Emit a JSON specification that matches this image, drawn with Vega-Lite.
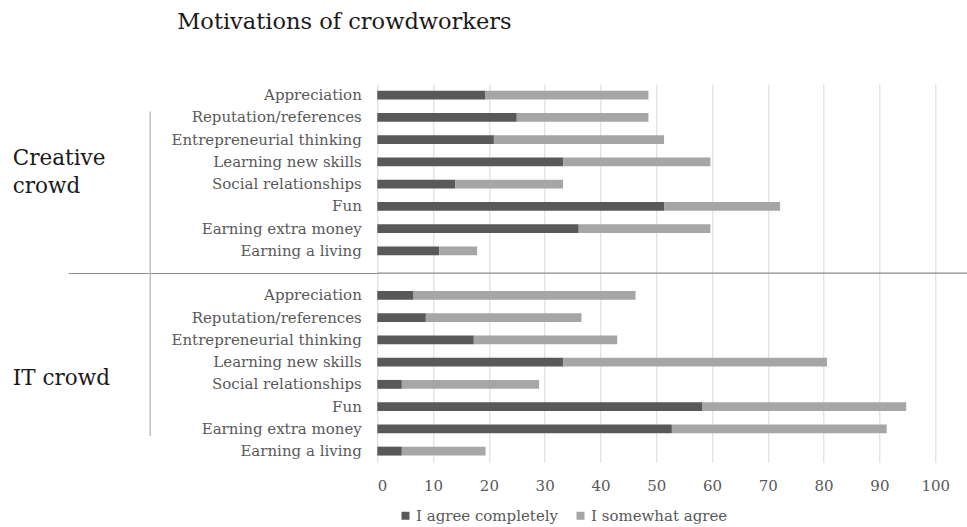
{
  "$schema": "https://vega.github.io/schema/vega-lite/v6.json",
  "width": 589.7,
  "height": 378.25,
  "autosize": "none",
  "padding": {"left": 377.3, "top": 84, "right": 0, "bottom": 64.75},
  "background": "white",
  "config": {
    "font": "DejaVu Serif",
    "view": {"stroke": null},
    "axis": {"labelFont": "DejaVu Serif"},
    "legend": {"labelFont": "DejaVu Serif"}
  },
  "title": {
    "text": "Motivations of crowdworkers",
    "anchor": "start",
    "frame": "group",
    "dx": -200,
    "fontSize": 22.5,
    "fontWeight": "normal",
    "font": "DejaVu Serif",
    "color": "#1a1a1a",
    "offset": 51
  },
  "data": {
    "values": [
      {"k": "Creative crowd|Appreciation", "r": "I agree completely", "o": 1, "v": 19.4},
      {"k": "Creative crowd|Appreciation", "r": "I somewhat agree", "o": 2, "v": 29.2},
      {"k": "Creative crowd|Reputation/references", "r": "I agree completely", "o": 1, "v": 25.0},
      {"k": "Creative crowd|Reputation/references", "r": "I somewhat agree", "o": 2, "v": 23.6},
      {"k": "Creative crowd|Entrepreneurial thinking", "r": "I agree completely", "o": 1, "v": 20.9},
      {"k": "Creative crowd|Entrepreneurial thinking", "r": "I somewhat agree", "o": 2, "v": 30.5},
      {"k": "Creative crowd|Learning new skills", "r": "I agree completely", "o": 1, "v": 33.3},
      {"k": "Creative crowd|Learning new skills", "r": "I somewhat agree", "o": 2, "v": 26.4},
      {"k": "Creative crowd|Social relationships", "r": "I agree completely", "o": 1, "v": 14.0},
      {"k": "Creative crowd|Social relationships", "r": "I somewhat agree", "o": 2, "v": 19.3},
      {"k": "Creative crowd|Fun", "r": "I agree completely", "o": 1, "v": 51.4},
      {"k": "Creative crowd|Fun", "r": "I somewhat agree", "o": 2, "v": 20.8},
      {"k": "Creative crowd|Earning extra money", "r": "I agree completely", "o": 1, "v": 36.1},
      {"k": "Creative crowd|Earning extra money", "r": "I somewhat agree", "o": 2, "v": 23.6},
      {"k": "Creative crowd|Earning a living", "r": "I agree completely", "o": 1, "v": 11.1},
      {"k": "Creative crowd|Earning a living", "r": "I somewhat agree", "o": 2, "v": 6.8},
      {"k": "IT crowd|Appreciation", "r": "I agree completely", "o": 1, "v": 6.5},
      {"k": "IT crowd|Appreciation", "r": "I somewhat agree", "o": 2, "v": 39.8},
      {"k": "IT crowd|Reputation/references", "r": "I agree completely", "o": 1, "v": 8.7},
      {"k": "IT crowd|Reputation/references", "r": "I somewhat agree", "o": 2, "v": 27.9},
      {"k": "IT crowd|Entrepreneurial thinking", "r": "I agree completely", "o": 1, "v": 17.3},
      {"k": "IT crowd|Entrepreneurial thinking", "r": "I somewhat agree", "o": 2, "v": 25.7},
      {"k": "IT crowd|Learning new skills", "r": "I agree completely", "o": 1, "v": 33.3},
      {"k": "IT crowd|Learning new skills", "r": "I somewhat agree", "o": 2, "v": 47.3},
      {"k": "IT crowd|Social relationships", "r": "I agree completely", "o": 1, "v": 4.4},
      {"k": "IT crowd|Social relationships", "r": "I somewhat agree", "o": 2, "v": 24.6},
      {"k": "IT crowd|Fun", "r": "I agree completely", "o": 1, "v": 58.2},
      {"k": "IT crowd|Fun", "r": "I somewhat agree", "o": 2, "v": 36.6},
      {"k": "IT crowd|Earning extra money", "r": "I agree completely", "o": 1, "v": 52.8},
      {"k": "IT crowd|Earning extra money", "r": "I somewhat agree", "o": 2, "v": 38.5},
      {"k": "IT crowd|Earning a living", "r": "I agree completely", "o": 1, "v": 4.4},
      {"k": "IT crowd|Earning a living", "r": "I somewhat agree", "o": 2, "v": 15.0}
    ]
  },
  "layer": [
    {
      "mark": {"type": "bar"},
      "encoding": {
        "y": {
          "field": "k",
          "type": "nominal",
          "sort": null,
          "scale": {
            "domain": [
              "Creative crowd|Appreciation",
              "Creative crowd|Reputation/references",
              "Creative crowd|Entrepreneurial thinking",
              "Creative crowd|Learning new skills",
              "Creative crowd|Social relationships",
              "Creative crowd|Fun",
              "Creative crowd|Earning extra money",
              "Creative crowd|Earning a living",
              "gap",
              "IT crowd|Appreciation",
              "IT crowd|Reputation/references",
              "IT crowd|Entrepreneurial thinking",
              "IT crowd|Learning new skills",
              "IT crowd|Social relationships",
              "IT crowd|Fun",
              "IT crowd|Earning extra money",
              "IT crowd|Earning a living"
            ],
            "paddingInner": 0.6,
            "paddingOuter": 0.3
          },
          "axis": {
            "title": null,
            "orient": "left",
            "ticks": false,
            "domain": false,
            "labelPadding": 16,
            "labelFontSize": 15,
            "labelLimit": 300,
            "labelColor": "#595959",
            "labelExpr": "datum.value == 'gap' ? '' : split(datum.value, '|')[1]"
          }
        },
        "x": {
          "field": "v",
          "type": "quantitative",
          "stack": "zero",
          "scale": {"domain": [0, 105.7], "nice": false},
          "axis": {
            "title": null,
            "values": [0, 10, 20, 30, 40, 50, 60, 70, 80, 90, 100],
            "grid": true,
            "gridColor": "#d9d9d9",
            "gridWidth": 1,
            "domain": false,
            "ticks": false,
            "labelFontSize": 15,
            "labelColor": "#595959",
            "labelPadding": 16
          }
        },
        "color": {
          "field": "r",
          "type": "nominal",
          "scale": {
            "domain": ["I agree completely", "I somewhat agree"],
            "range": ["#595959", "#a6a6a6"]
          },
          "legend": {
            "title": null,
            "orient": "none",
            "direction": "horizontal",
            "legendX": 20.7,
            "legendY": 424,
            "symbolType": "square",
            "symbolSize": 64,
            "symbolStrokeWidth": 0,
            "labelFontSize": 15,
            "labelColor": "#595959",
            "labelOffset": 3,
            "columnPadding": 14
          }
        },
        "order": {"field": "o", "type": "quantitative"}
      }
    },
    {
      "data": {"values": [{"a": "Creative crowd|Reputation/references", "b": "IT crowd|Earning extra money"}]},
      "mark": {"type": "rule", "color": "#bfbfbf", "strokeWidth": 1.5, "yOffset": -6, "y2Offset": 7},
      "encoding": {
        "x": {"datum": -40.7, "type": "quantitative"},
        "y": {
          "field": "a",
          "type": "nominal",
          "axis": {
            "title": null,
            "orient": "left",
            "values": ["Creative crowd|Social relationships", "IT crowd|Social relationships"],
            "ticks": false,
            "domain": false,
            "labelAlign": "left",
            "labelBaseline": "middle",
            "labelPadding": 365,
            "labelLimit": 300,
            "labelOffset": {"condition": {"test": "datum.value == 'IT crowd|Social relationships'", "value": -5}, "value": -25},
            "labelFontSize": 21.5,
            "labelLineHeight": 28,
            "labelColor": "#1a1a1a",
            "labelExpr": "datum.value == 'IT crowd|Social relationships' ? 'IT crowd' : ['Creative', 'crowd']"
          }
        },
        "y2": {"field": "b"}
      }
    },
    {
      "data": {"values": [{"k": "gap"}]},
      "mark": {"type": "rule", "color": "#8c8c8c", "strokeWidth": 1.2},
      "encoding": {
        "y": {
          "field": "k",
          "type": "nominal",
          "axis": {
            "title": null,
            "orient": "left",
            "values": ["gap"],
            "labels": false,
            "domain": false,
            "ticks": true,
            "tickSize": 309,
            "tickWidth": 1.2,
            "tickColor": "#8c8c8c"
          }
        }
      }
    }
  ],
  "resolve": {"axis": {"y": "independent"}}
}
